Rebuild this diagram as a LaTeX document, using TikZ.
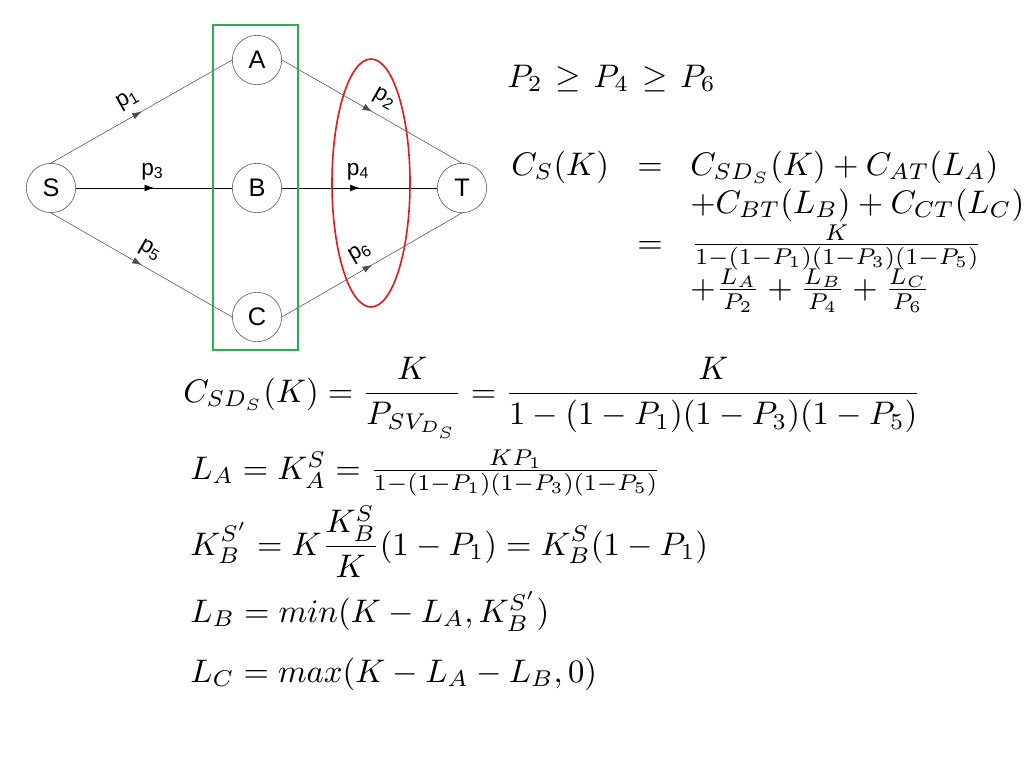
\documentclass[tikz,border=0pt]{standalone}
\usepackage{amsmath}
\usepackage{fontspec}
\newfontfamily\arialfont{Liberation Sans}
\usetikzlibrary{decorations.markings,arrows.meta}
\definecolor{boxgreen}{RGB}{40,175,80}
\definecolor{ringred}{RGB}{225,25,25}
\newcommand{\slidemath}[1]{\scalebox{2.45}{$#1$}}
\begin{document}
\begin{tikzpicture}[x=0.75pt,y=-0.75pt]
        \tikzset{vertex/.style = {shape=circle,draw=black!70,minimum size=37pt,inner sep=0pt,font=\arialfont\fontsize{19}{19}\selectfont}}
        \tikzset{edge/.style = {draw=black!70,postaction={decorate},decoration={markings,mark=at position 0.5 with {\arrow{Latex[length=7pt,width=5pt]}}}}}
        \tikzset{plabel/.style = {font=\arialfont\fontsize{17}{17}\selectfont,sloped,above=3pt,inner sep=3pt}}
        \tikzset{formula/.style = {anchor=base west,inner sep=0pt}}
        \useasboundingbox[fill=white] (0,0) rectangle (1024,768);
        % source and sink
        \node[vertex] (s) at (51,188) {S};
        \node[vertex] (t) at (462,188) {T};
        % middle vertices
        \node[vertex] (a) at (257,60) {A};
        \node[vertex] (b) at (257,188) {B};
        \node[vertex] (c) at (257,317) {C};
        % edges
        \draw[edge] (s.north) to node[plabel,pos=0.47] {p\textsubscript{1}} (a.west);
        \draw[edge,draw=black] (s.east) to node[plabel,pos=0.49] {p\textsubscript{3}} (b.west);
        \draw[edge] (s.south) to node[plabel,pos=0.5] {p\textsubscript{5}} (c.west);
        \draw[edge] (a.east) to node[plabel,pos=0.52] {p\textsubscript{2}} (t.north);
        \draw[edge,draw=black] (b.east) to node[plabel,pos=0.49] {p\textsubscript{4}} (t.west);
        \draw[edge] (c.east) to node[plabel,pos=0.48] {p\textsubscript{6}} (t.south);
        % groups
        \draw[boxgreen,line width=1pt] (213,25) rectangle (298,350);
        \draw[ringred,line width=1.2pt] (371,183) ellipse [x radius=39, y radius=124];
        % ordering and total cost
        \node[formula] (order) at (507,87) {\slidemath{P_2\mskip2mu\geq\mskip2mu P_4\mskip2mu\geq\mskip2mu P_6}};
        \node[formula] (cost) at (511,175) {\slidemath{C_S(K)}};
        \node[formula] (eqa) at (637,175) {\slidemath{=}};
        \node[formula] (costa) at (690,175) {\slidemath{C_{SD_S}(K)+C_{AT}(L_A)}};
        \node[formula] (costb) at (690,213) {\slidemath{+C_{BT}(L_B)+C_{CT}(L_C)}};
        \node[formula] (eqb) at (637,253) {\slidemath{=}};
        \node[formula] (costc) at (691,253) {\slidemath{\frac{K}{1-(1-P_1)(1-P_3)(1-P_5)}}};
        \node[formula] (costd) at (690,298) {\slidemath{+\frac{L_A}{P_2}+\frac{L_B}{P_4}+\frac{L_C}{P_6}}};
        % loads
        \node[formula] (lsd) at (183,402) {\slidemath{\displaystyle C_{SD_S}(K)=\frac{K}{P_{SV_{D_S}}}=\frac{K}{1-(1-P_1)(1-P_3)(1-P_5)}}};
        \node[formula] (la) at (190,479) {\slidemath{L_A=K_A^S=\frac{KP_1}{1-(1-P_1)(1-P_3)(1-P_5)}}};
        \node[formula] (kb) at (190,555) {\slidemath{\displaystyle K_B^{S'}=K\frac{K_B^S}{K}(1-P_1)=K_B^S(1-P_1)}};
        \node[formula] (lb) at (190,622) {\slidemath{L_B=min(K-L_A,K_B^{S'})}};
        \node[formula] (lc) at (190,682) {\slidemath{L_C=max(K-L_A-L_B,0)}};
\end{tikzpicture}
\end{document}
